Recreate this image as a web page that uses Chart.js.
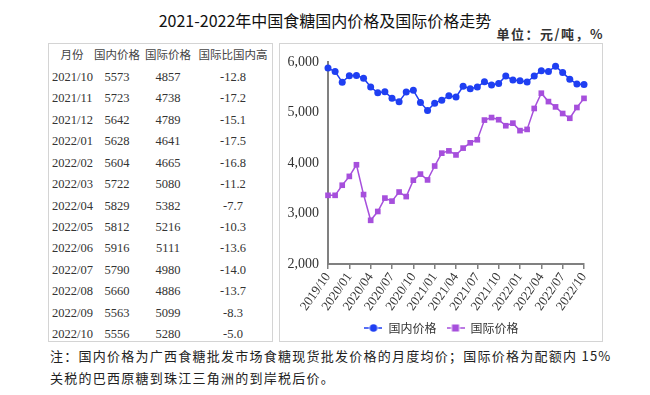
<!DOCTYPE html>
<html>
<head>
<meta charset="utf-8">
<script src="https://cdn.jsdelivr.net/npm/chart.js@4"></script>
<style>
  body { margin: 0; background: #fff; width: 650px; height: 395px; position: relative; overflow: hidden; }
  .abs { position: absolute; white-space: nowrap; }
  .box { position: absolute; border: 1px solid #d4d4d4; box-sizing: border-box; }
  #title { left: 0; width: 650px; top: 8px; text-align: center; font: 16px "Noto Sans CJK SC", sans-serif; color: #111; }
  #unit { right: 46px; top: 24px; font: bold 13px "Noto Sans CJK SC", sans-serif; color: #333; letter-spacing: 1.5px; }
  .th { font: 11.5px "Noto Sans CJK SC", sans-serif; color: #444; transform: translate(-50%, -50%); }
  .td { font: 12.5px "Liberation Serif", serif; color: #333; transform: translate(-50%, -50%); }
  .tm { font: 12.5px "Liberation Serif", serif; color: #333; transform: translate(0, -50%); }
  .note { left: 50px; font: 13px "Noto Sans CJK SC", sans-serif; color: #222; letter-spacing: 1.25px; }
  canvas { position: absolute; left: 279px; top: 43px; }
</style>
</head>
<body>
<div id="title" class="abs">2021-2022年中国食糖国内价格及国际价格走势</div>
<div id="unit" class="abs">单位：元/吨，%</div>
<div class="box" style="left:48px;top:43px;width:225px;height:299px"></div>
<div class="box" style="left:279px;top:43px;width:324px;height:299px"></div>
<div id="table"></div>
<div class="abs note" style="top:346px">注：国内价格为广西食糖批发市场食糖现货批发价格的月度均价；国际价格为配额内 15%</div>
<div class="abs note" style="top:368px">关税的巴西原糖到珠江三角洲的到岸税后价。</div>
<canvas id="myChart" width="324" height="301"></canvas>
<script>
// 月份（2019/10 - 2022/10）
const months = ['2019/10','2019/11','2019/12','2020/01','2020/02','2020/03','2020/04','2020/05','2020/06',
  '2020/07','2020/08','2020/09','2020/10','2020/11','2020/12','2021/01','2021/02','2021/03','2021/04',
  '2021/05','2021/06','2021/07','2021/08','2021/09','2021/10','2021/11','2021/12','2022/01','2022/02',
  '2022/03','2022/04','2022/05','2022/06','2022/07','2022/08','2022/09','2022/10'];
// 国内价格 元/吨
const domestic = [5880, 5810, 5600, 5730, 5735, 5680, 5505, 5390, 5410, 5280, 5215, 5405, 5440, 5200,
  5040, 5185, 5245, 5330, 5305, 5520, 5470, 5505, 5610, 5545, 5573, 5723, 5642, 5628, 5604, 5722,
  5829, 5812, 5916, 5790, 5660, 5563, 5556];
// 国际价格 元/吨
const international = [3360, 3360, 3560, 3735, 3965, 3375, 2865, 3040, 3305, 3245, 3425, 3335, 3660,
  3780, 3665, 3940, 4195, 4240, 4160, 4295, 4400, 4460, 4850, 4900, 4857, 4738, 4789, 4641, 4665,
  5080, 5382, 5216, 5111, 4980, 4886, 5099, 5280];
// 国际比国内高 %
const gapPct = ['-12.8','-17.2','-15.1','-17.5','-16.8','-11.2','-7.7','-10.3','-13.6','-14.0','-13.7','-8.3','-5.0'];
const headers = ['月份', '国内价格', '国际价格', '国际比国内高'];

// 表格
const table = document.getElementById('table');
const colX = [72, 117, 168, 233];
headers.forEach((h, i) => {
  const d = document.createElement('div');
  d.className = 'abs th';
  d.style.left = colX[i] + 'px';
  d.style.top = '54px';
  d.textContent = h;
  table.appendChild(d);
});
const n = gapPct.length;
for (let r = 0; r < n; r++) {
  const k = months.length - n + r;
  const y = 77 + r * 21.42;
  const cells = [months[k], domestic[k], international[k], gapPct[r]];
  cells.forEach((v, i) => {
    const d = document.createElement('div');
    d.className = i === 0 ? 'abs tm' : 'abs td';
    d.style.left = (i === 0 ? 52 : colX[i]) + 'px';
    d.style.top = y + 'px';
    d.textContent = v;
    table.appendChild(d);
  });
}

// 图例标记
function marker(color, square) {
  const c = document.createElement('canvas');
  c.width = 18; c.height = 10;
  const g = c.getContext('2d');
  g.strokeStyle = color; g.fillStyle = color; g.lineWidth = 1.5;
  g.beginPath(); g.moveTo(0, 5); g.lineTo(4.5, 5); g.moveTo(13.5, 5); g.lineTo(18, 5); g.stroke();
  if (square) g.fillRect(5.5, 1.5, 7, 7);
  else { g.beginPath(); g.arc(9, 5, 3.8, 0, Math.PI * 2); g.fill(); }
  return c;
}
const blue = '#1f3ff2';
const purple = '#a64fdc';
const markers = [marker(blue, false), marker(purple, true)];

// 图例居中于整个边框
const shiftLegend = {
  id: 'shiftLegend',
  afterLayout(chart) {
    chart.legend.left += 10;
    chart.legend.right += 10;
  }
};

const ctx = document.getElementById('myChart');
new Chart(ctx, {
  type: 'line',
  data: {
    labels: months,
    datasets: [{
      label: '国内价格',
      data: domestic,
      borderColor: blue,
      backgroundColor: blue,
      borderWidth: 1.5,
      pointStyle: 'circle',
      pointRadius: 3.5,
      pointBorderWidth: 0,
      tension: 0
    }, {
      label: '国际价格',
      data: international,
      borderColor: purple,
      backgroundColor: purple,
      borderWidth: 1.5,
      pointStyle: 'rect',
      pointRadius: 4,
      pointBorderWidth: 0,
      tension: 0
    }]
  },
  options: {
    responsive: false,
    animation: false,
    devicePixelRatio: 1,
    layout: { padding: { top: 19, right: 19, left: 0, bottom: 0 } },
    plugins: {
      tooltip: { enabled: false },
      legend: {
        position: 'bottom',
        labels: {
          usePointStyle: true,
          pointStyleWidth: 18,
          padding: 10,
          color: '#333',
          font: { family: '"Noto Sans CJK SC", sans-serif', size: 12 },
          generateLabels: chart => Chart.defaults.plugins.legend.labels.generateLabels(chart)
            .map((l, i) => Object.assign(l, { pointStyle: markers[i] }))
        }
      }
    },
    scales: {
      x: {
        offset: false,
        border: { color: '#808080', width: 2 },
        grid: { drawOnChartArea: false, drawTicks: true, tickLength: 5, color: '#808080', lineWidth: 1.5 },
        ticks: {
          autoSkip: false,
          minRotation: 55,
          maxRotation: 55,
          padding: 1,
          color: '#333',
          font: { family: '"Liberation Serif", serif', size: 13 },
          callback: function (value, index) {
            return index % 3 === 0 ? this.getLabelForValue(value) : null;
          }
        },
        afterFit: s => { s.height = 48; }
      },
      y: {
        min: 2000,
        max: 6000,
        border: { color: '#808080', width: 2 },
        grid: { display: false, drawTicks: false },
        ticks: {
          stepSize: 1000,
          padding: 9,
          color: '#333',
          font: { family: '"Liberation Serif", serif', size: 14 },
          callback: v => v.toLocaleString('en-US')
        },
        afterFit: s => { s.width = 49; }
      }
    }
  },
  plugins: [shiftLegend]
});
</script>
</body>
</html>
